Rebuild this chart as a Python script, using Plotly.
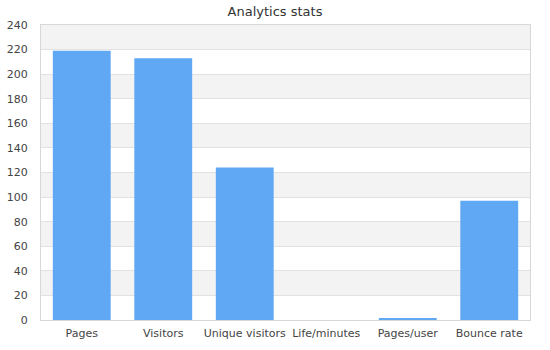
import plotly.graph_objects as go

categories = ["Pages", "Visitors", "Unique visitors", "Life/minutes", "Pages/user", "Bounce rate"]
values = [219, 213, 124, 0, 1, 97]
y_ticks = list(range(0, 241, 20))

fig = go.Figure()
fig.add_trace(go.Bar(x=categories, y=values, marker=dict(color="#60a8f4", line=dict(width=0)),
                     hoverinfo="x+y"))

shapes = []
for lo in range(20, 240, 40):
    shapes.append(dict(type="rect", xref="paper", yref="y", x0=0, x1=1, y0=lo, y1=lo + 20,
                       fillcolor="#f3f3f3", line=dict(width=0), layer="below"))

fig.update_layout(
    width=550, height=350,
    margin=dict(l=41, r=20, t=25, b=30),
    paper_bgcolor="white", plot_bgcolor="white",
    title=dict(text="Analytics stats", x=0.5, xanchor="center", y=0.967, yanchor="middle",
               font=dict(family="DejaVu Sans", size=13, color="#333")),
    font=dict(family="DejaVu Sans", size=11, color="#444"),
    bargap=0.29,
    showlegend=False,
    shapes=shapes,
    xaxis=dict(showgrid=False, showline=True, linecolor="#d8d8d8", linewidth=1, mirror=True,
               automargin=False,
               ticks="", ticklabelstandoff=3, tickfont=dict(size=11, color="#444")),
    yaxis=dict(range=[0, 240], tickvals=y_ticks, showgrid=True, gridcolor="#e2e2e2", gridwidth=1,
               showline=True, linecolor="#d8d8d8", linewidth=1, mirror=True, zeroline=False,
               automargin=False,
               ticks="", ticklabelstandoff=10, tickfont=dict(size=11, color="#444")),
)

fig.write_html("out.html")
